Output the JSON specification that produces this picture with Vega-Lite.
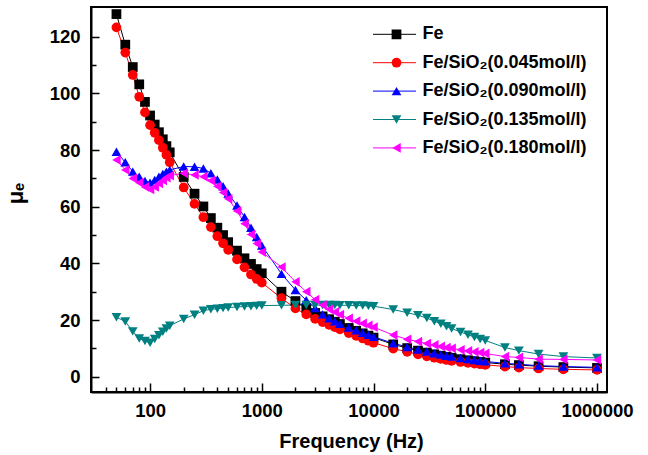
{
  "$schema": "https://vega.github.io/schema/vega-lite/v6.json",
  "width": 516,
  "height": 385,
  "autosize": {"type": "none"},
  "padding": {"left": 91, "top": 7, "right": 41, "bottom": 63},
  "config": {
    "view": {"stroke": "#000000", "strokeWidth": 2},
    "axis": {"grid": false},
    "font": "Liberation Sans"
  },
  "data": {"values": [
    {"s":"Fe","f":50,"m":128},{"s":"Fe","f":60,"m":117.2},{"s":"Fe","f":70,"m":109.3},{"s":"Fe","f":80,"m":103.2},{"s":"Fe","f":90,"m":97},{"s":"Fe","f":100,"m":92.2},{"s":"Fe","f":110,"m":89},{"s":"Fe","f":120,"m":86.3},{"s":"Fe","f":130,"m":83.8},{"s":"Fe","f":140,"m":81.4},{"s":"Fe","f":150,"m":79.2},
    {"s":"Fe","f":200,"m":70.5},{"s":"Fe","f":250,"m":64.6},{"s":"Fe","f":300,"m":60.1},{"s":"Fe","f":350,"m":56},{"s":"Fe","f":400,"m":52.6},{"s":"Fe","f":450,"m":50},{"s":"Fe","f":500,"m":47.5},{"s":"Fe","f":600,"m":44.5},{"s":"Fe","f":700,"m":41.8},{"s":"Fe","f":800,"m":39.8},{"s":"Fe","f":900,"m":38},{"s":"Fe","f":1000,"m":36.5},
    {"s":"Fe","f":1500,"m":30},{"s":"Fe","f":2000,"m":26.7},{"s":"Fe","f":2500,"m":24.2},{"s":"Fe","f":3000,"m":22.5},{"s":"Fe","f":3500,"m":21.3},{"s":"Fe","f":4000,"m":20.3},{"s":"Fe","f":4500,"m":19.4},{"s":"Fe","f":5000,"m":18.6},{"s":"Fe","f":6000,"m":17.2},{"s":"Fe","f":7000,"m":16.2},{"s":"Fe","f":8000,"m":15.3},{"s":"Fe","f":9000,"m":14.5},{"s":"Fe","f":10000,"m":13.8},
    {"s":"Fe","f":15000,"m":11.4},{"s":"Fe","f":20000,"m":10.1},{"s":"Fe","f":25000,"m":9.2},{"s":"Fe","f":30000,"m":8.5},{"s":"Fe","f":35000,"m":7.9},{"s":"Fe","f":40000,"m":7.4},{"s":"Fe","f":45000,"m":7},{"s":"Fe","f":50000,"m":6.7},{"s":"Fe","f":60000,"m":6.2},{"s":"Fe","f":70000,"m":5.8},{"s":"Fe","f":80000,"m":5.5},{"s":"Fe","f":90000,"m":5.2},{"s":"Fe","f":100000,"m":5},
    {"s":"Fe","f":150000,"m":4.4},{"s":"Fe","f":200000,"m":4.1},{"s":"Fe","f":300000,"m":3.7},{"s":"Fe","f":500000,"m":3.4},{"s":"Fe","f":1000000,"m":3.1},

    {"s":"Fe/SiO\u2082(0.045mol/l)","f":50,"m":123.3},{"s":"Fe/SiO\u2082(0.045mol/l)","f":60,"m":114.4},{"s":"Fe/SiO\u2082(0.045mol/l)","f":70,"m":106.5},{"s":"Fe/SiO\u2082(0.045mol/l)","f":80,"m":98.8},{"s":"Fe/SiO\u2082(0.045mol/l)","f":90,"m":93.3},{"s":"Fe/SiO\u2082(0.045mol/l)","f":100,"m":88.8},{"s":"Fe/SiO\u2082(0.045mol/l)","f":110,"m":86.1},{"s":"Fe/SiO\u2082(0.045mol/l)","f":120,"m":83.5},{"s":"Fe/SiO\u2082(0.045mol/l)","f":130,"m":80.8},{"s":"Fe/SiO\u2082(0.045mol/l)","f":140,"m":78.3},{"s":"Fe/SiO\u2082(0.045mol/l)","f":150,"m":75.7},
    {"s":"Fe/SiO\u2082(0.045mol/l)","f":200,"m":66.8},{"s":"Fe/SiO\u2082(0.045mol/l)","f":250,"m":61},{"s":"Fe/SiO\u2082(0.045mol/l)","f":300,"m":56.3},{"s":"Fe/SiO\u2082(0.045mol/l)","f":350,"m":52.8},{"s":"Fe/SiO\u2082(0.045mol/l)","f":400,"m":49.6},{"s":"Fe/SiO\u2082(0.045mol/l)","f":450,"m":47.1},{"s":"Fe/SiO\u2082(0.045mol/l)","f":500,"m":44.8},{"s":"Fe/SiO\u2082(0.045mol/l)","f":600,"m":41.4},{"s":"Fe/SiO\u2082(0.045mol/l)","f":700,"m":38.6},{"s":"Fe/SiO\u2082(0.045mol/l)","f":800,"m":36.1},{"s":"Fe/SiO\u2082(0.045mol/l)","f":900,"m":34.5},{"s":"Fe/SiO\u2082(0.045mol/l)","f":1000,"m":33.2},
    {"s":"Fe/SiO\u2082(0.045mol/l)","f":1500,"m":27.7},{"s":"Fe/SiO\u2082(0.045mol/l)","f":2000,"m":24.1},{"s":"Fe/SiO\u2082(0.045mol/l)","f":2500,"m":22},{"s":"Fe/SiO\u2082(0.045mol/l)","f":3000,"m":20.4},{"s":"Fe/SiO\u2082(0.045mol/l)","f":3500,"m":19.3},{"s":"Fe/SiO\u2082(0.045mol/l)","f":4000,"m":18.3},{"s":"Fe/SiO\u2082(0.045mol/l)","f":4500,"m":17.5},{"s":"Fe/SiO\u2082(0.045mol/l)","f":5000,"m":16.7},{"s":"Fe/SiO\u2082(0.045mol/l)","f":6000,"m":15.4},{"s":"Fe/SiO\u2082(0.045mol/l)","f":7000,"m":14.4},{"s":"Fe/SiO\u2082(0.045mol/l)","f":8000,"m":13.5},{"s":"Fe/SiO\u2082(0.045mol/l)","f":9000,"m":12.7},{"s":"Fe/SiO\u2082(0.045mol/l)","f":10000,"m":12},
    {"s":"Fe/SiO\u2082(0.045mol/l)","f":15000,"m":9.9},{"s":"Fe/SiO\u2082(0.045mol/l)","f":20000,"m":8.8},{"s":"Fe/SiO\u2082(0.045mol/l)","f":25000,"m":7.9},{"s":"Fe/SiO\u2082(0.045mol/l)","f":30000,"m":7.2},{"s":"Fe/SiO\u2082(0.045mol/l)","f":35000,"m":6.7},{"s":"Fe/SiO\u2082(0.045mol/l)","f":40000,"m":6.3},{"s":"Fe/SiO\u2082(0.045mol/l)","f":45000,"m":5.9},{"s":"Fe/SiO\u2082(0.045mol/l)","f":50000,"m":5.6},{"s":"Fe/SiO\u2082(0.045mol/l)","f":60000,"m":5.2},{"s":"Fe/SiO\u2082(0.045mol/l)","f":70000,"m":4.9},{"s":"Fe/SiO\u2082(0.045mol/l)","f":80000,"m":4.6},{"s":"Fe/SiO\u2082(0.045mol/l)","f":90000,"m":4.4},{"s":"Fe/SiO\u2082(0.045mol/l)","f":100000,"m":4.2},
    {"s":"Fe/SiO\u2082(0.045mol/l)","f":150000,"m":3.6},{"s":"Fe/SiO\u2082(0.045mol/l)","f":200000,"m":3.2},{"s":"Fe/SiO\u2082(0.045mol/l)","f":300000,"m":2.9},{"s":"Fe/SiO\u2082(0.045mol/l)","f":500000,"m":2.6},{"s":"Fe/SiO\u2082(0.045mol/l)","f":1000000,"m":2.4},

    {"s":"Fe/SiO\u2082(0.090mol/l)","f":50,"m":79.4},{"s":"Fe/SiO\u2082(0.090mol/l)","f":60,"m":75.7},{"s":"Fe/SiO\u2082(0.090mol/l)","f":70,"m":72.4},{"s":"Fe/SiO\u2082(0.090mol/l)","f":80,"m":70.6},{"s":"Fe/SiO\u2082(0.090mol/l)","f":90,"m":69.1},{"s":"Fe/SiO\u2082(0.090mol/l)","f":100,"m":68.5},{"s":"Fe/SiO\u2082(0.090mol/l)","f":110,"m":69.4},{"s":"Fe/SiO\u2082(0.090mol/l)","f":120,"m":70.6},{"s":"Fe/SiO\u2082(0.090mol/l)","f":130,"m":71.6},{"s":"Fe/SiO\u2082(0.090mol/l)","f":140,"m":72.4},{"s":"Fe/SiO\u2082(0.090mol/l)","f":150,"m":73},
    {"s":"Fe/SiO\u2082(0.090mol/l)","f":200,"m":74.2},{"s":"Fe/SiO\u2082(0.090mol/l)","f":250,"m":74.1},{"s":"Fe/SiO\u2082(0.090mol/l)","f":300,"m":73.5},{"s":"Fe/SiO\u2082(0.090mol/l)","f":350,"m":71.8},{"s":"Fe/SiO\u2082(0.090mol/l)","f":400,"m":69.6},{"s":"Fe/SiO\u2082(0.090mol/l)","f":450,"m":67.2},{"s":"Fe/SiO\u2082(0.090mol/l)","f":500,"m":64.7},{"s":"Fe/SiO\u2082(0.090mol/l)","f":600,"m":60.4},{"s":"Fe/SiO\u2082(0.090mol/l)","f":700,"m":56.4},{"s":"Fe/SiO\u2082(0.090mol/l)","f":800,"m":52.6},{"s":"Fe/SiO\u2082(0.090mol/l)","f":900,"m":49.3},{"s":"Fe/SiO\u2082(0.090mol/l)","f":1000,"m":46.3},
    {"s":"Fe/SiO\u2082(0.090mol/l)","f":1500,"m":36.3},{"s":"Fe/SiO\u2082(0.090mol/l)","f":2000,"m":30.6},{"s":"Fe/SiO\u2082(0.090mol/l)","f":2500,"m":27},{"s":"Fe/SiO\u2082(0.090mol/l)","f":3000,"m":24.2},{"s":"Fe/SiO\u2082(0.090mol/l)","f":3500,"m":22},{"s":"Fe/SiO\u2082(0.090mol/l)","f":4000,"m":20.6},{"s":"Fe/SiO\u2082(0.090mol/l)","f":4500,"m":19.6},{"s":"Fe/SiO\u2082(0.090mol/l)","f":5000,"m":18.7},{"s":"Fe/SiO\u2082(0.090mol/l)","f":6000,"m":17.4},{"s":"Fe/SiO\u2082(0.090mol/l)","f":7000,"m":16.4},{"s":"Fe/SiO\u2082(0.090mol/l)","f":8000,"m":15.5},{"s":"Fe/SiO\u2082(0.090mol/l)","f":9000,"m":14.8},{"s":"Fe/SiO\u2082(0.090mol/l)","f":10000,"m":14.1},
    {"s":"Fe/SiO\u2082(0.090mol/l)","f":15000,"m":11.8},{"s":"Fe/SiO\u2082(0.090mol/l)","f":20000,"m":10.5},{"s":"Fe/SiO\u2082(0.090mol/l)","f":25000,"m":9.6},{"s":"Fe/SiO\u2082(0.090mol/l)","f":30000,"m":8.9},{"s":"Fe/SiO\u2082(0.090mol/l)","f":35000,"m":8.3},{"s":"Fe/SiO\u2082(0.090mol/l)","f":40000,"m":7.8},{"s":"Fe/SiO\u2082(0.090mol/l)","f":45000,"m":7.4},{"s":"Fe/SiO\u2082(0.090mol/l)","f":50000,"m":7.1},{"s":"Fe/SiO\u2082(0.090mol/l)","f":60000,"m":6.6},{"s":"Fe/SiO\u2082(0.090mol/l)","f":70000,"m":6.2},{"s":"Fe/SiO\u2082(0.090mol/l)","f":80000,"m":5.9},{"s":"Fe/SiO\u2082(0.090mol/l)","f":90000,"m":5.6},{"s":"Fe/SiO\u2082(0.090mol/l)","f":100000,"m":5.4},
    {"s":"Fe/SiO\u2082(0.090mol/l)","f":150000,"m":4.7},{"s":"Fe/SiO\u2082(0.090mol/l)","f":200000,"m":4.4},{"s":"Fe/SiO\u2082(0.090mol/l)","f":300000,"m":3.9},{"s":"Fe/SiO\u2082(0.090mol/l)","f":500000,"m":3.6},{"s":"Fe/SiO\u2082(0.090mol/l)","f":1000000,"m":3.3},

    {"s":"Fe/SiO\u2082(0.135mol/l)","f":50,"m":21},{"s":"Fe/SiO\u2082(0.135mol/l)","f":60,"m":19.5},{"s":"Fe/SiO\u2082(0.135mol/l)","f":70,"m":16},{"s":"Fe/SiO\u2082(0.135mol/l)","f":80,"m":13.5},{"s":"Fe/SiO\u2082(0.135mol/l)","f":90,"m":12.6},{"s":"Fe/SiO\u2082(0.135mol/l)","f":100,"m":12},{"s":"Fe/SiO\u2082(0.135mol/l)","f":110,"m":13.3},{"s":"Fe/SiO\u2082(0.135mol/l)","f":120,"m":14.6},{"s":"Fe/SiO\u2082(0.135mol/l)","f":130,"m":15.9},{"s":"Fe/SiO\u2082(0.135mol/l)","f":140,"m":17},{"s":"Fe/SiO\u2082(0.135mol/l)","f":150,"m":18},
    {"s":"Fe/SiO\u2082(0.135mol/l)","f":200,"m":20.4},{"s":"Fe/SiO\u2082(0.135mol/l)","f":250,"m":21.9},{"s":"Fe/SiO\u2082(0.135mol/l)","f":300,"m":23.3},{"s":"Fe/SiO\u2082(0.135mol/l)","f":350,"m":23.8},{"s":"Fe/SiO\u2082(0.135mol/l)","f":400,"m":24},{"s":"Fe/SiO\u2082(0.135mol/l)","f":450,"m":24.2},{"s":"Fe/SiO\u2082(0.135mol/l)","f":500,"m":24.4},{"s":"Fe/SiO\u2082(0.135mol/l)","f":600,"m":24.6},{"s":"Fe/SiO\u2082(0.135mol/l)","f":700,"m":24.8},{"s":"Fe/SiO\u2082(0.135mol/l)","f":800,"m":24.9},{"s":"Fe/SiO\u2082(0.135mol/l)","f":900,"m":25},{"s":"Fe/SiO\u2082(0.135mol/l)","f":1000,"m":25.1},
    {"s":"Fe/SiO\u2082(0.135mol/l)","f":1500,"m":25.2},{"s":"Fe/SiO\u2082(0.135mol/l)","f":2000,"m":25.3},{"s":"Fe/SiO\u2082(0.135mol/l)","f":2500,"m":25.3},{"s":"Fe/SiO\u2082(0.135mol/l)","f":3000,"m":25.3},{"s":"Fe/SiO\u2082(0.135mol/l)","f":3500,"m":25.3},{"s":"Fe/SiO\u2082(0.135mol/l)","f":4000,"m":25.3},{"s":"Fe/SiO\u2082(0.135mol/l)","f":4500,"m":25.3},{"s":"Fe/SiO\u2082(0.135mol/l)","f":5000,"m":25.2},{"s":"Fe/SiO\u2082(0.135mol/l)","f":6000,"m":25.2},{"s":"Fe/SiO\u2082(0.135mol/l)","f":7000,"m":25.1},{"s":"Fe/SiO\u2082(0.135mol/l)","f":8000,"m":25.1},{"s":"Fe/SiO\u2082(0.135mol/l)","f":9000,"m":25},{"s":"Fe/SiO\u2082(0.135mol/l)","f":10000,"m":24.9},
    {"s":"Fe/SiO\u2082(0.135mol/l)","f":15000,"m":23.7},{"s":"Fe/SiO\u2082(0.135mol/l)","f":20000,"m":22.6},{"s":"Fe/SiO\u2082(0.135mol/l)","f":25000,"m":21.7},{"s":"Fe/SiO\u2082(0.135mol/l)","f":30000,"m":20.7},{"s":"Fe/SiO\u2082(0.135mol/l)","f":35000,"m":19.6},{"s":"Fe/SiO\u2082(0.135mol/l)","f":40000,"m":18.7},{"s":"Fe/SiO\u2082(0.135mol/l)","f":45000,"m":17.8},{"s":"Fe/SiO\u2082(0.135mol/l)","f":50000,"m":17},{"s":"Fe/SiO\u2082(0.135mol/l)","f":60000,"m":15.8},{"s":"Fe/SiO\u2082(0.135mol/l)","f":70000,"m":14.8},{"s":"Fe/SiO\u2082(0.135mol/l)","f":80000,"m":14},{"s":"Fe/SiO\u2082(0.135mol/l)","f":90000,"m":13.3},{"s":"Fe/SiO\u2082(0.135mol/l)","f":100000,"m":12.8},
    {"s":"Fe/SiO\u2082(0.135mol/l)","f":150000,"m":10.3},{"s":"Fe/SiO\u2082(0.135mol/l)","f":200000,"m":9.2},{"s":"Fe/SiO\u2082(0.135mol/l)","f":300000,"m":8},{"s":"Fe/SiO\u2082(0.135mol/l)","f":500000,"m":7.1},{"s":"Fe/SiO\u2082(0.135mol/l)","f":1000000,"m":6.6},

    {"s":"Fe/SiO\u2082(0.180mol/l)","f":50,"m":76.5},{"s":"Fe/SiO\u2082(0.180mol/l)","f":60,"m":73},{"s":"Fe/SiO\u2082(0.180mol/l)","f":70,"m":70},{"s":"Fe/SiO\u2082(0.180mol/l)","f":80,"m":68.5},{"s":"Fe/SiO\u2082(0.180mol/l)","f":90,"m":67},{"s":"Fe/SiO\u2082(0.180mol/l)","f":100,"m":66.1},{"s":"Fe/SiO\u2082(0.180mol/l)","f":110,"m":67},{"s":"Fe/SiO\u2082(0.180mol/l)","f":120,"m":68.2},{"s":"Fe/SiO\u2082(0.180mol/l)","f":130,"m":69.3},{"s":"Fe/SiO\u2082(0.180mol/l)","f":140,"m":70.3},{"s":"Fe/SiO\u2082(0.180mol/l)","f":150,"m":71},
    {"s":"Fe/SiO\u2082(0.180mol/l)","f":200,"m":71.8},{"s":"Fe/SiO\u2082(0.180mol/l)","f":250,"m":71.2},{"s":"Fe/SiO\u2082(0.180mol/l)","f":300,"m":70.6},{"s":"Fe/SiO\u2082(0.180mol/l)","f":350,"m":69.2},{"s":"Fe/SiO\u2082(0.180mol/l)","f":400,"m":67.2},{"s":"Fe/SiO\u2082(0.180mol/l)","f":450,"m":65},{"s":"Fe/SiO\u2082(0.180mol/l)","f":500,"m":62.8},{"s":"Fe/SiO\u2082(0.180mol/l)","f":600,"m":58.5},{"s":"Fe/SiO\u2082(0.180mol/l)","f":700,"m":54},{"s":"Fe/SiO\u2082(0.180mol/l)","f":800,"m":50.2},{"s":"Fe/SiO\u2082(0.180mol/l)","f":900,"m":47},{"s":"Fe/SiO\u2082(0.180mol/l)","f":1000,"m":44},
    {"s":"Fe/SiO\u2082(0.180mol/l)","f":1500,"m":38.7},{"s":"Fe/SiO\u2082(0.180mol/l)","f":2000,"m":33.5},{"s":"Fe/SiO\u2082(0.180mol/l)","f":2500,"m":30},{"s":"Fe/SiO\u2082(0.180mol/l)","f":3000,"m":27.2},{"s":"Fe/SiO\u2082(0.180mol/l)","f":3500,"m":25.3},{"s":"Fe/SiO\u2082(0.180mol/l)","f":4000,"m":23.8},{"s":"Fe/SiO\u2082(0.180mol/l)","f":4500,"m":22.8},{"s":"Fe/SiO\u2082(0.180mol/l)","f":5000,"m":21.9},{"s":"Fe/SiO\u2082(0.180mol/l)","f":6000,"m":20.6},{"s":"Fe/SiO\u2082(0.180mol/l)","f":7000,"m":19.6},{"s":"Fe/SiO\u2082(0.180mol/l)","f":8000,"m":18.8},{"s":"Fe/SiO\u2082(0.180mol/l)","f":9000,"m":18.1},{"s":"Fe/SiO\u2082(0.180mol/l)","f":10000,"m":17.5},
    {"s":"Fe/SiO\u2082(0.180mol/l)","f":15000,"m":14.7},{"s":"Fe/SiO\u2082(0.180mol/l)","f":20000,"m":13.2},{"s":"Fe/SiO\u2082(0.180mol/l)","f":25000,"m":12.4},{"s":"Fe/SiO\u2082(0.180mol/l)","f":30000,"m":11.7},{"s":"Fe/SiO\u2082(0.180mol/l)","f":35000,"m":11.2},{"s":"Fe/SiO\u2082(0.180mol/l)","f":40000,"m":10.7},{"s":"Fe/SiO\u2082(0.180mol/l)","f":45000,"m":10.3},{"s":"Fe/SiO\u2082(0.180mol/l)","f":50000,"m":10},{"s":"Fe/SiO\u2082(0.180mol/l)","f":60000,"m":9.5},{"s":"Fe/SiO\u2082(0.180mol/l)","f":70000,"m":9.1},{"s":"Fe/SiO\u2082(0.180mol/l)","f":80000,"m":8.8},{"s":"Fe/SiO\u2082(0.180mol/l)","f":90000,"m":8.5},{"s":"Fe/SiO\u2082(0.180mol/l)","f":100000,"m":8.2},
    {"s":"Fe/SiO\u2082(0.180mol/l)","f":150000,"m":7.1},{"s":"Fe/SiO\u2082(0.180mol/l)","f":200000,"m":6.8},{"s":"Fe/SiO\u2082(0.180mol/l)","f":300000,"m":6.2},{"s":"Fe/SiO\u2082(0.180mol/l)","f":500000,"m":6.1},{"s":"Fe/SiO\u2082(0.180mol/l)","f":1000000,"m":5.9}
  ]},
  "layer": [
    {
      "mark": {"type": "line", "strokeWidth": 1, "clip": true},
      "encoding": {
        "x": {"field": "f", "type": "quantitative",
          "scale": {"type": "log", "domain": [29.6, 1229000], "nice": false},
          "axis": {"orient": "bottom", "values": [100, 1000, 10000, 100000, 1000000], "format": "d",
            "labelFont": "Liberation Sans", "labelFontWeight": "bold", "labelFontSize": 18.5, "labelColor": "#000000",
            "labelFlush": false, "labelOverlap": false, "labelPadding": 18,
            "tickSize": -9, "tickWidth": 1.5, "tickColor": "#000000",
            "domainColor": "#000000", "domainWidth": 2,
            "title": "Frequency (Hz)", "titleFont": "Liberation Sans", "titleFontWeight": "bold", "titleFontSize": 20, "titleColor": "#000000",
            "titleX": 260, "titleY": 55, "titleBaseline": "alphabetic", "titleAlign": "center"}},
        "y": {"field": "m", "type": "quantitative",
          "scale": {"domain": [-5.4, 130.5], "nice": false, "zero": false},
          "axis": {"orient": "left", "values": [0, 20, 40, 60, 80, 100, 120],
            "labelFont": "Liberation Sans", "labelFontWeight": "bold", "labelFontSize": 18.5, "labelColor": "#000000",
            "labelFlush": false, "labelOverlap": false, "labelPadding": 19,
            "tickSize": -8, "tickWidth": 1.5, "tickColor": "#000000",
            "domainColor": "#000000", "domainWidth": 2,
            "title": "\u03bc\u2091", "titleFont": "Liberation Sans", "titleFontWeight": "bold", "titleFontSize": 22, "titleColor": "#000000",
            "titleX": -69, "titleY": 186, "titleAngle": -90, "titleBaseline": "alphabetic", "titleAlign": "center"}},
        "stroke": {"field": "s", "type": "nominal",
          "scale": {"domain": ["Fe", "Fe/SiO\u2082(0.045mol/l)", "Fe/SiO\u2082(0.090mol/l)", "Fe/SiO\u2082(0.135mol/l)", "Fe/SiO\u2082(0.180mol/l)"],
            "range": ["#000000", "#FF0000", "#0000FF", "#008080", "#FF00FF"]},
          "legend": {"orient": "none", "legendX": 281.5, "legendY": 18.3, "direction": "vertical", "title": null, "padding": 0,
            "symbolType": "stroke", "symbolSize": 1849, "symbolStrokeWidth": 1, "clipHeight": 18,
            "labelExpr": "''", "labelFontSize": 18,
            "rowPadding": 10.4}}
      }
    },
    {
      "mark": {"type": "point", "filled": true, "size": 95, "opacity": 1, "strokeWidth": 0, "clip": true},
      "encoding": {
        "x": {"field": "f", "type": "quantitative",
          "axis": {"orient": "bottom", "values": [40,50,60,70,80,90,200,300,400,500,600,700,800,900,2000,3000,4000,5000,6000,7000,8000,9000,20000,30000,40000,50000,60000,70000,80000,90000,200000,300000,400000,500000,600000,700000,800000,900000],
            "labels": false, "domain": false, "title": null, "tickSize": -5, "tickWidth": 1.5, "tickColor": "#000000"}},
        "y": {"field": "m", "type": "quantitative",
          "axis": {"orient": "left", "values": [10, 30, 50, 70, 90, 110],
            "labels": false, "domain": false, "title": null, "tickSize": -5, "tickWidth": 1.5, "tickColor": "#000000"}},
        "fill": {"field": "s", "type": "nominal",
          "scale": {"range": ["#000000", "#FF0000", "#0000FF", "#008080", "#FF00FF"]},
          "legend": {"orient": "none", "legendX": 296.5, "legendY": 18.3, "direction": "vertical", "title": null, "padding": 0,
            "symbolSize": 95, "symbolStrokeWidth": 0, "clipHeight": 18, "labelOffset": 17, "labelLimit": 400,
            "labelFont": "Liberation Sans", "labelFontWeight": "bold", "labelFontSize": 18, "labelColor": "#000000",
            "rowPadding": 10.4}},
        "shape": {"field": "s", "type": "nominal",
          "scale": {"range": ["square", "circle", "triangle-up", "triangle-down", "triangle-left"]},
          "legend": {"orient": "none", "legendX": 296.5, "legendY": 18.3, "direction": "vertical", "title": null, "padding": 0,
            "symbolSize": 95, "symbolStrokeWidth": 0, "clipHeight": 18, "labelOffset": 17, "labelLimit": 400,
            "labelFont": "Liberation Sans", "labelFontWeight": "bold", "labelFontSize": 18, "labelColor": "#000000",
            "rowPadding": 10.4}}
      }
    }
  ],
  "resolve": {"axis": {"x": "independent", "y": "independent"}}
}
